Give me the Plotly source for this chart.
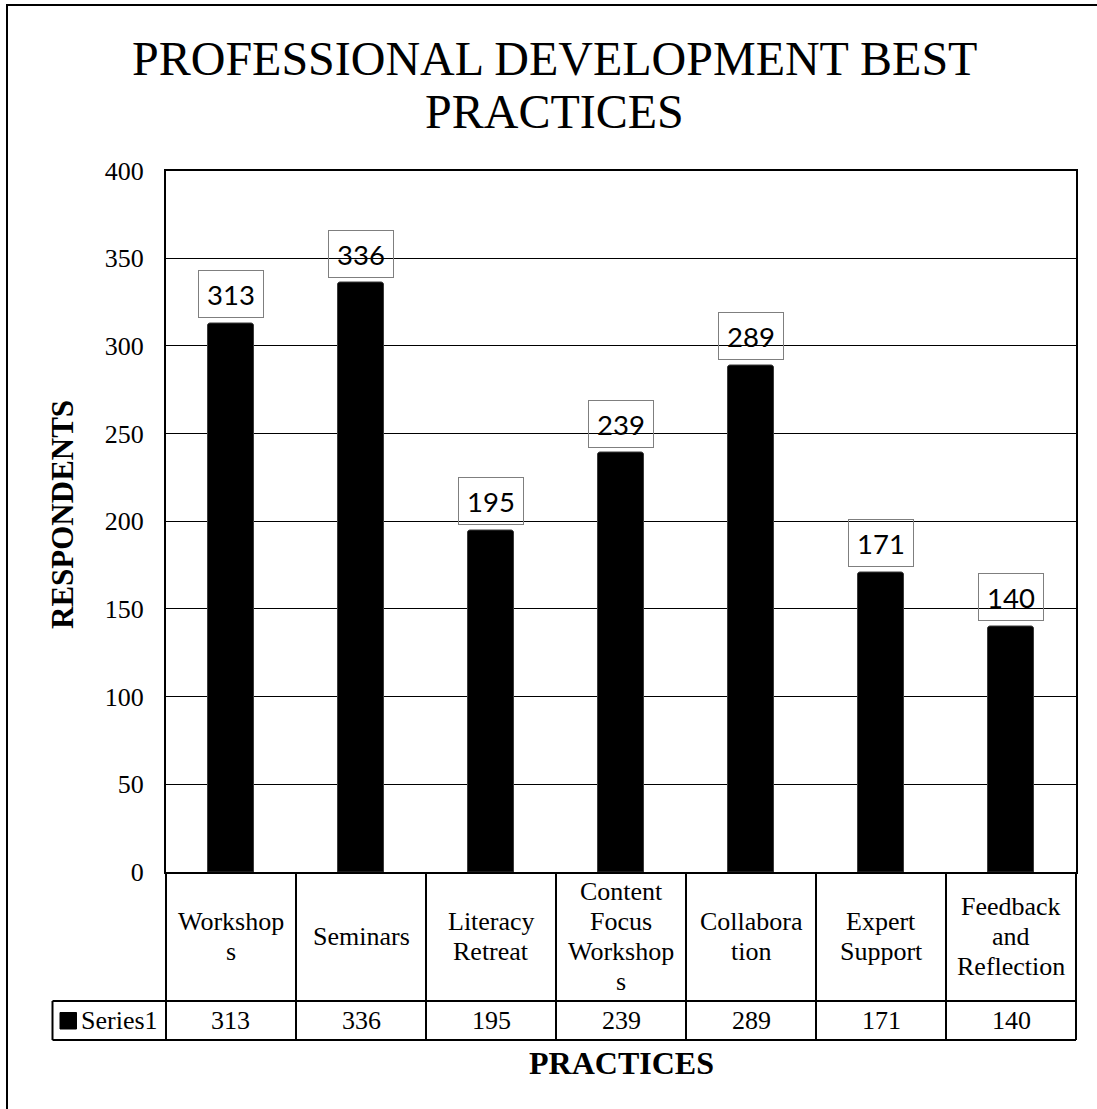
import plotly.graph_objects as go

# ---- data ----
categories = ["Workshops", "Seminars", "Literacy Retreat", "Content Focus Workshops",
              "Collaboration", "Expert Support", "Feedback and Reflection"]
category_lines = [["Workshop", "s"], ["Seminars"], ["Literacy", "Retreat"],
                  ["Content", "Focus", "Workshop", "s"], ["Collabora", "tion"],
                  ["Expert", "Support"], ["Feedback", "and", "Reflection"]]
series_name = "Series1"
respondents = [313, 336, 195, 239, 289, 171, 140]
y_ticks = [0, 50, 100, 150, 200, 250, 300, 350, 400]
title_lines = ["PROFESSIONAL DEVELOPMENT BEST", "PRACTICES"]
x_title = "PRACTICES"
y_title = "RESPONDENTS"

W, H = 1097, 1109
def px(x):
    return x / W
def py(y):
    return 1 - y / H

SERIF = "Liberation Serif, Times New Roman, serif"
PL, PR, PT, PB = 166, 1076, 170.5, 872
n = len(categories)
colw = (PR - PL) / n

fig = go.Figure()
fig.add_trace(go.Bar(
    x=list(range(n)), y=respondents, width=0.35,
    marker=dict(color="black", line=dict(color="#3a3a3a", width=1), cornerradius=3),
    name=series_name, showlegend=False, hoverinfo="y",
))

annotations = []
shapes = []

# data labels (boxed, no fill)
for i, v in enumerate(respondents):
    annotations.append(dict(
        x=i, y=v, xref="x", yref="y", text=str(v), showarrow=False,
        yanchor="bottom", yshift=5, font=dict(family="Lato", size=27.5, color="black"),
        bordercolor="#7f7f7f", borderwidth=1, borderpad=2, width=60, height=42,
        align="center", valign="middle",
    ))

# chart title (two lines)
for k, line in enumerate(title_lines):
    annotations.append(dict(
        x=px(554), y=py(58 + 54 * k), xref="paper", yref="paper", text=line,
        showarrow=False, xanchor="center", yanchor="middle",
        font=dict(family=SERIF, size=48, color="black"),
    ))

# axis titles
annotations.append(dict(
    x=px(62), y=py(515), xref="paper", yref="paper", text="<b>%s</b>" % y_title,
    showarrow=False, textangle=-90, xanchor="center", yanchor="middle",
    font=dict(family=SERIF, size=31, color="black"),
))
annotations.append(dict(
    x=px(621), y=py(1063), xref="paper", yref="paper", text="<b>%s</b>" % x_title,
    showarrow=False, xanchor="center", yanchor="middle",
    font=dict(family=SERIF, size=32, color="black"),
))

# data table: category row
row1_top, row1_bot, row2_bot = PB, 1001, 1040
line_h = 30
for i, lines in enumerate(category_lines):
    cy = (row1_top + row1_bot) / 2
    start = cy - line_h * (len(lines) - 1) / 2
    for j, t in enumerate(lines):
        annotations.append(dict(
            x=i, y=py(start + j * line_h), xref="x", yref="paper", text=t,
            showarrow=False, xanchor="center", yanchor="middle",
            font=dict(family=SERIF, size=26, color="black"),
        ))
# data table: series row
for i, v in enumerate(respondents):
    annotations.append(dict(
        x=i, y=py((row1_bot + row2_bot) / 2), xref="x", yref="paper", text=str(v),
        showarrow=False, xanchor="center", yanchor="middle",
        font=dict(family=SERIF, size=26, color="black"),
    ))
annotations.append(dict(
    x=px(79), y=py((row1_bot + row2_bot) / 2), xref="paper", yref="paper", text=series_name,
    showarrow=False, xanchor="left", yanchor="middle",
    font=dict(family=SERIF, size=26, color="black"),
))

LW = 2
# legend key
shapes.append(dict(type="rect", xref="paper", yref="paper",
                   x0=px(60), x1=px(76.5), y0=py(1012.5), y1=py(1029),
                   fillcolor="black", line=dict(color="black", width=1)))
# table grid
TL = 52.5
shapes.append(dict(type="line", xref="paper", yref="paper", x0=px(TL), x1=px(PR),
                   y0=py(row1_bot), y1=py(row1_bot), line=dict(color="black", width=LW)))
shapes.append(dict(type="line", xref="paper", yref="paper", x0=px(TL), x1=px(PR),
                   y0=py(row2_bot), y1=py(row2_bot), line=dict(color="black", width=LW)))
shapes.append(dict(type="line", xref="paper", yref="paper", x0=px(TL), x1=px(TL),
                   y0=py(row1_bot), y1=py(row2_bot), line=dict(color="black", width=LW)))
for k in range(n + 1):
    xx = PL + colw * k
    shapes.append(dict(type="line", xref="paper", yref="paper", x0=px(xx), x1=px(xx),
                       y0=py(row1_top), y1=py(row2_bot), line=dict(color="black", width=LW)))
# outer chart frame
shapes.append(dict(type="rect", xref="paper", yref="paper",
                   x0=px(7), x1=px(W + 20), y0=py(5), y1=py(H + 20),
                   line=dict(color="black", width=2), fillcolor="rgba(0,0,0,0)"))

fig.update_layout(
    width=W, height=H,
    margin=dict(l=0, r=0, t=0, b=0, pad=0, autoexpand=False),
    paper_bgcolor="white", plot_bgcolor="white",
    xaxis=dict(domain=[px(PL), px(PR)], range=[-0.5, n - 0.5], showticklabels=False,
               showgrid=False, zeroline=False, showline=True, mirror=True,
               linecolor="black", linewidth=LW, ticks="", fixedrange=True, automargin=False),
    yaxis=dict(domain=[py(PB), py(PT)], range=[0, 400], tickvals=y_ticks,
               showgrid=True, gridcolor="black", gridwidth=1.3, zeroline=False,
               showline=True, mirror=True, linecolor="black", linewidth=LW,
               ticks="", ticklabelstandoff=15, automargin=False,
               tickfont=dict(family=SERIF, size=26, color="black"), fixedrange=True),
    annotations=annotations,
    shapes=shapes,
    bargap=0,
)

fig.write_html("out.html")
